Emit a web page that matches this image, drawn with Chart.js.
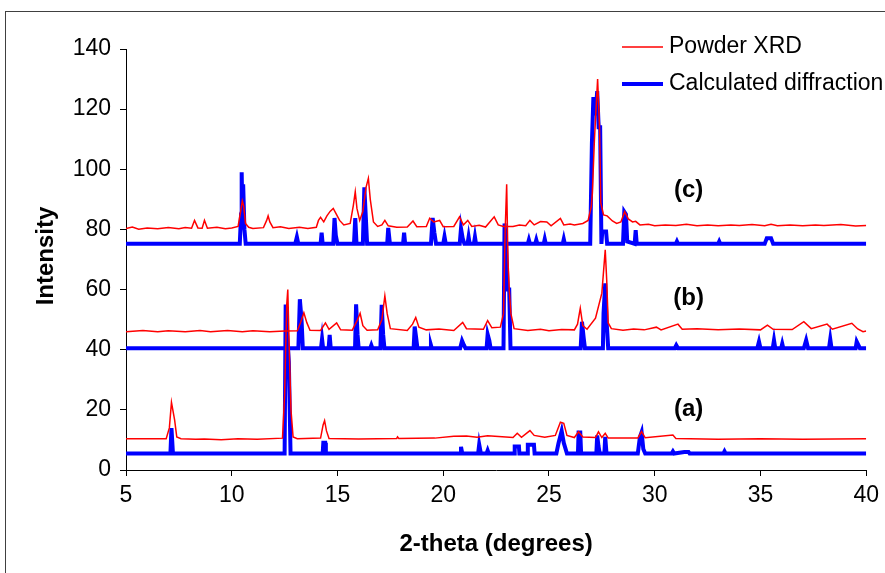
<!DOCTYPE html>
<html>
<head>
<meta charset="utf-8">
<script src="https://cdn.jsdelivr.net/npm/chart.js@4.4.0/dist/chart.umd.min.js"></script>
<style>
  html, body { margin: 0; padding: 0; background: #fff; }
  canvas { display: block; }
</style>
</head>
<body>
<canvas id="chart-canvas" width="885" height="573"></canvas>
<script>
// 2-theta (deg), intensity pairs
const xrdC = [[5,80.3],[5.3,80.8],[5.6,80.1],[6.0,80.5],[6.5,80.2],[7.0,80.6],[7.5,80.2],[7.8,80.6],[8.1,80.4],[8.24,83],[8.4,80.5],[8.6,80.4],[8.71,83],[8.85,80.4],[9.3,80.7],[9.7,80.2],[10.0,80.5],[10.3,81],[10.42,86],[10.5,89.5],[10.56,88],[10.65,82],[10.8,80.7],[11.0,80.3],[11.5,80.6],[11.65,83],[11.72,84.5],[11.8,82.5],[11.95,80.6],[12.3,80.9],[12.7,80.3],[13.2,80.7],[13.6,80.3],[14.0,80.7],[14.1,83],[14.2,84],[14.35,82.5],[14.5,84.5],[14.65,86],[14.8,87],[14.95,85],[15.1,83],[15.3,81.5],[15.6,82],[15.75,88],[15.84,92.5],[15.92,87],[16.05,83],[16.2,86],[16.35,94],[16.46,97],[16.55,90],[16.7,82.5],[16.9,81],[17.1,81.5],[17.24,83],[17.4,81.2],[17.8,80.7],[18.3,80.8],[18.57,82.8],[18.75,80.9],[19.2,81],[19.36,83.7],[19.55,82.5],[19.83,83],[20.0,80.9],[20.5,81],[20.77,84.2],[20.95,81.5],[21.16,83],[21.35,81],[21.7,81.4],[22.0,80.8],[22.41,84.2],[22.6,81.5],[22.85,81],[23.3,81],[23.6,81.5],[23.9,81.2],[24.1,83],[24.3,81.5],[24.6,82.6],[24.9,82.5],[25.1,81.2],[25.54,83.7],[25.7,81.5],[26.0,81.8],[26.2,81.5],[26.6,82],[26.85,83],[27.0,87.6],[27.05,92],[27.15,110],[27.3,130],[27.39,114],[27.45,88.8],[27.58,84.8],[27.75,84.5],[28.0,82.8],[28.2,82],[28.4,82.5],[28.58,85.9],[28.75,83.5],[28.95,82.5],[29.1,82.7],[29.3,81.5],[29.7,81.7],[30,81.2],[30.5,81.5],[31,81.3],[31.5,81.7],[32,81.2],[32.5,81.5],[33,81.2],[33.6,81.5],[34,81.3],[34.6,81.6],[35.2,81.2],[35.5,81.7],[35.8,81.2],[36.4,81.5],[37,81.2],[37.6,81.5],[38,81.3],[38.8,81.6],[39.5,81.1],[40,81.3]];

const calcC = [[5,75.2],[10.38,75.2],[10.44,85],[10.47,99],[10.5,86],[10.54,95],[10.6,80],[10.66,75.2],[13.0,75.2],[13.08,77.5],[13.15,75.2],[14.2,75.2],[14.25,78.9],[14.3,75.2],[14.8,75.2],[14.86,83.8],[14.92,78],[15.0,75.2],[15.78,75.2],[15.84,83.8],[15.9,75.2],[16.2,75.2],[16.27,94],[16.34,84],[16.4,75.2],[17.35,75.2],[17.4,80.5],[17.48,75.2],[18.1,75.2],[18.15,78.9],[18.2,75.2],[19.42,75.2],[19.5,83.8],[19.58,79],[19.66,75.2],[20.0,75.2],[20.06,77.6],[20.12,75.2],[20.78,75.2],[20.84,80.3],[20.92,77],[21.0,75.2],[21.15,75.2],[21.2,77.5],[21.25,75.2],[21.45,75.2],[21.5,77.5],[21.55,75.2],[24.0,75.2],[24.05,76.5],[24.1,75.2],[24.35,75.2],[24.4,76.5],[24.45,75.2],[24.75,75.2],[24.8,76.8],[24.85,75.2],[25.65,75.2],[25.7,76.8],[25.75,75.2],[26.95,75.2],[27.03,108.7],[27.1,124],[27.2,118],[27.28,126],[27.35,114],[27.42,114],[27.48,75.2],[27.52,79.3],[27.7,79.3],[27.75,75.2],[28.5,75.2],[28.56,85.9],[28.64,85],[28.7,76],[29.05,75.2],[29.1,79.8],[29.15,75.2],[31.0,75.2],[31.05,76],[31.1,75.2],[33,75.2],[33.05,76],[33.1,75.2],[35.2,75.2],[35.3,77.1],[35.5,77.1],[35.6,75.2],[40,75.2]];

const xrdB = [[5,46],[5.8,46.4],[6.5,46],[7,46.3],[7.8,46],[8.5,46.4],[9,46],[9.8,46.4],[10.5,46],[11,46.3],[11.8,46],[12.5,46.2],[13.1,46.3],[13.25,49],[13.41,52.3],[13.55,49],[13.7,46.5],[14.2,46.4],[14.43,48.9],[14.6,46.8],[14.96,48.9],[15.15,46.6],[15.7,46.5],[15.95,50],[16.07,52.1],[16.2,48],[16.4,46.5],[16.9,46.6],[17.1,50],[17.24,57.9],[17.35,52],[17.5,47],[18.3,46.4],[18.55,48.5],[18.7,50.7],[18.85,47.5],[19.2,46.6],[19.8,46.9],[20.5,46.4],[20.92,49.1],[21.1,47],[21.9,46.8],[22.1,49.7],[22.3,47.3],[22.7,47.5],[22.85,52],[22.93,80],[23.0,95],[23.06,70],[23.12,60],[23.2,52],[23.35,47],[24,46.4],[24.6,46.8],[25,46.3],[25.6,46.7],[26.2,46.6],[26.35,48.5],[26.48,53.8],[26.6,48],[26.8,46.8],[27.2,50.5],[27.5,58.8],[27.66,73.2],[27.73,63.2],[27.8,48.9],[27.95,47],[28.5,46.5],[29.0,46.9],[29.5,46.6],[30.08,47.5],[30.3,46.6],[31.1,48.5],[31.3,46.8],[32.0,47],[33,46.6],[34,46.9],[35.0,46.6],[35.33,48.2],[35.6,46.8],[36.5,46.7],[37.05,49.3],[37.4,47],[38.15,48.5],[38.4,46.8],[39.32,48.8],[39.6,46.9],[39.85,46],[40,46.2]];

const calcB = [[5,40.5],[13.15,40.5],[13.22,56.8],[13.3,50],[13.36,40.5],[14.22,40.5],[14.27,43.6],[14.32,40.5],[14.58,40.5],[14.63,44.9],[14.68,40.5],[15.83,40.5],[15.88,55.1],[15.95,45],[16.0,40.5],[16.55,40.5],[16.6,41.5],[16.65,40.5],[17.03,40.5],[17.09,54.9],[17.16,45],[17.22,40.5],[18.6,40.5],[18.65,47.7],[18.72,44],[18.78,40.5],[19.38,40.5],[19.42,41.5],[19.46,40.5],[20.8,40.5],[20.89,43],[20.98,41.5],[21.05,40.5],[22.05,40.5],[22.1,45.1],[22.18,43],[22.24,40.5],[22.85,40.5],[22.9,82],[22.97,75],[23.05,60],[23.12,60],[23.18,40.5],[26.5,40.5],[26.56,49.3],[26.64,44],[26.7,40.5],[27.55,40.5],[27.58,52.1],[27.66,62.1],[27.72,50],[27.8,40.5],[30.95,40.5],[31.02,41.5],[31.1,40.5],[34.85,40.5],[34.93,42.7],[35.0,40.5],[35.58,40.5],[35.64,43.2],[35.7,40.5],[35.98,40.5],[36.03,42],[36.08,40.5],[37.05,40.5],[37.16,43.2],[37.25,40.5],[38.24,40.5],[38.3,43.5],[38.36,40.5],[39.5,40.5],[39.55,42.7],[39.7,40.5],[40,40.5]];

const xrdA = [[5,10.4],[6.9,10.4],[7.05,14],[7.15,22.5],[7.3,16.6],[7.4,11],[7.6,10.4],[8.3,10.2],[8.7,10.3],[9.5,10.1],[10.3,10.4],[11.2,10.2],[12.4,10.6],[12.5,25],[12.6,55],[12.65,60],[12.72,40],[12.8,20],[12.9,11],[13.1,10.4],[14.2,10.6],[14.32,15],[14.39,16.4],[14.48,13],[14.6,10.5],[16.0,10.3],[17.8,10.5],[17.84,11],[17.9,10.5],[19.6,10.6],[20.5,11.2],[21.1,11.3],[21.6,10.9],[22.1,11.4],[23.3,10.8],[23.5,12.2],[23.7,10.9],[24.1,13.1],[24.3,11.5],[24.8,10.9],[25.3,11.5],[25.54,15.9],[25.7,15.5],[25.85,11.5],[26.2,10.8],[26.4,12.7],[26.6,11],[27.2,10.8],[27.34,12.7],[27.5,10.8],[27.66,12.2],[27.8,10.6],[29.2,10.6],[29.38,12.8],[29.55,10.7],[30.86,11.6],[31,10.5],[33,10.2],[35,10.4],[37,10.2],[40,10.4]];

const calcA = [[5,5.5],[7.1,5.5],[7.15,13.9],[7.22,5.5],[12.5,5.5],[12.55,55],[12.62,45],[12.7,36],[12.78,5.5],[14.3,5.5],[14.33,9.1],[14.42,9.1],[14.45,5.5],[20.8,5.5],[20.84,7.7],[20.9,5.5],[21.65,5.5],[21.7,8.5],[21.78,5.5],[22.05,5.5],[22.1,6.5],[22.15,5.5],[23.35,5.5],[23.38,7.8],[23.58,7.8],[23.6,5.5],[23.97,5.5],[24.0,8.4],[24.29,8.4],[24.32,5.5],[25.35,5.5],[25.45,8.9],[25.6,13],[25.7,9],[25.85,5.5],[26.37,5.5],[26.4,12.5],[26.48,12.5],[26.52,5.5],[27.24,5.5],[27.28,11.5],[27.34,8],[27.4,5.5],[27.62,5.5],[27.66,11],[27.72,5.5],[29.2,5.5],[29.3,11],[29.38,12.6],[29.46,7],[29.55,5.5],[30.8,5.5],[30.86,6.2],[30.92,5.5],[31.4,6],[31.6,6],[31.65,5.5],[33.25,5.5],[33.3,6.2],[33.35,5.5],[40,5.5]];

const xTicks = [5, 10, 15, 20, 25, 30, 35, 40];
const yTicks = [0, 20, 40, 60, 80, 100, 120, 140];
const seriesNames = ['Powder XRD', 'Calculated diffraction'];
const patternLabels = [['(c)', 93], ['(b)', 57], ['(a)', 20]];

const RED = '#ff0000';
const BLUE = '#0000ff';
const ctx = document.querySelector('#chart-canvas').getContext('2d');

const redSet = data => ({ data, borderColor: RED, borderWidth: 1.5, pointRadius: 0, tension: 0 });
const blueSet = data => ({ data, borderColor: BLUE, borderWidth: 4, pointRadius: 0, tension: 0, borderJoinStyle: 'miter' });

// frame, legend, titles and (a)/(b)/(c) tags
const decor = {
	id: 'decor',
	beforeDraw(chart) {
		const c = chart.ctx;
		c.save();
		c.strokeStyle = '#404040';
		c.lineWidth = 1;
		c.strokeRect(5.5, 11.5, 1000, 1000);
		c.restore();
	},
	afterDraw(chart) {
		const c = chart.ctx;
		const { chartArea: area, scales } = chart;
		c.save();
		c.fillStyle = '#000';
		c.textBaseline = 'middle';

		// legend
		c.font = '23px "Liberation Sans", Arial, sans-serif';
		[[RED, 1.5, 47], [BLUE, 4, 84]].forEach(([col, w, y], i) => {
			c.strokeStyle = col;
			c.lineWidth = w;
			c.beginPath();
			c.moveTo(622, y);
			c.lineTo(663, y);
			c.stroke();
			c.textAlign = 'left';
			c.fillText(seriesNames[i], 669, y);
		});

		// pattern tags
		c.font = 'bold 24px "Liberation Sans", Arial, sans-serif';
		c.textAlign = 'center';
		const tagX = scales.x.getPixelForValue(31.6);
		patternLabels.forEach(([t, v]) => c.fillText(t, tagX, scales.y.getPixelForValue(v)));

		// axis titles
		c.fillText('2-theta (degrees)', (area.left + area.right) / 2, 544);
		c.translate(46, 256);
		c.rotate(-Math.PI / 2);
		c.fillText('Intensity', 0, 0);
		c.restore();
	}
};

new Chart(ctx, {
	type: 'line',
	data: {
		datasets: [
			redSet(xrdC), redSet(xrdB), redSet(xrdA),
			blueSet(calcC), blueSet(calcB), blueSet(calcA)
		]
	},
	options: {
		responsive: false,
		animation: false,
		layout: { padding: { top: 49, right: 14, left: 0, bottom: 0 } },
		plugins: { legend: { display: false }, tooltip: { enabled: false } },
		scales: {
			x: {
				type: 'linear',
				min: 5,
				max: 40,
				afterFit: s => { s.height = 103; },
				afterBuildTicks: s => { s.ticks = xTicks.map(value => ({ value })); },
				ticks: { color: '#000', padding: 6, maxRotation: 0, font: { family: '"Liberation Sans", Arial, sans-serif', size: 23 } },
				grid: { drawOnChartArea: false, tickLength: 6, color: '#000' },
				border: { color: '#000', width: 1 }
			},
			y: {
				min: 0,
				max: 140,
				afterFit: s => { s.width = 126; },
				afterBuildTicks: s => { s.ticks = yTicks.map(value => ({ value })); },
				ticks: { color: '#000', padding: 9, font: { family: '"Liberation Sans", Arial, sans-serif', size: 23 } },
				grid: { drawOnChartArea: false, tickLength: 6, color: '#000' },
				border: { color: '#000', width: 1 }
			}
		}
	},
	plugins: [decor]
});
</script>
</body>
</html>
